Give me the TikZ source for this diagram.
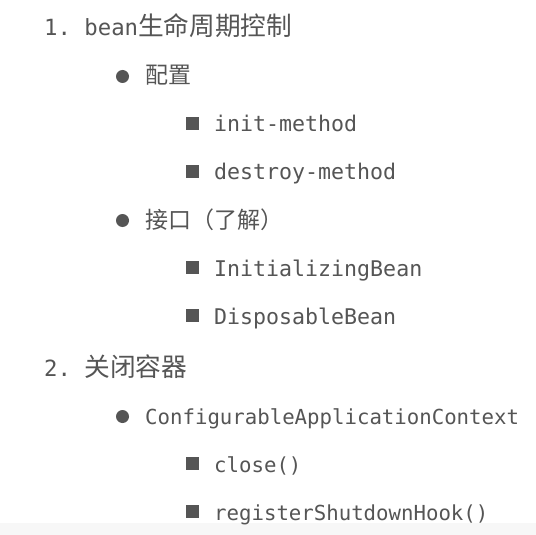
\documentclass[tikz,border=0pt]{standalone}
\usepackage{fontspec}
\setmonofont{DejaVu Sans Mono}
\newfontfamily\cjk{Noto Sans CJK SC}
\usetikzlibrary{positioning}
\definecolor{textgray}{HTML}{555555}
\definecolor{bandgray}{HTML}{F7F7F7}
\newcommand{\zhhead}[1]{{\cjk\fontsize{25.7bp}{30bp}\selectfont #1}}
\newcommand{\zhentry}[1]{{\cjk\fontsize{23bp}{27bp}\selectfont #1}}

\begin{document}
\begin{tikzpicture}[x=1bp, y=-1bp,
    every node/.append style={text=textgray, inner sep=0pt, anchor=base west},
    head/.style={font=\fontsize{22.3bp}{26bp}\selectfont\ttfamily},
    entry/.style={font=\fontsize{20.7bp}{24bp}\selectfont\ttfamily},
    leaf/.style={font=\fontsize{21.6bp}{25bp}\selectfont\ttfamily},
    dot/.style={circle, fill=textgray, minimum size=13bp, anchor=center},
    box/.style={rectangle, fill=textgray, minimum size=13bp, anchor=center}]
    \fill[white] (0,0) rectangle (536,535);
    \fill[bandgray] (0,523) rectangle (536,535);
    \useasboundingbox (0,0) rectangle (536,535);
    % 1. lifecycle
    \node[head] (lifecycle) at (44,36) {1. bean\zhhead{生命周期控制}};
    \node[dot] (dotconfig) at (122.5,76.5) {};
    \node[entry] (config) at (145,84) {\zhentry{配置}};
    \foreach \y/\name/\txt in {132/initmethod/init-method, 180/destroymethod/destroy-method}
      {
        \node[box] (box\name) at (192,\y-8.5) {};
        \node[leaf] (\name) at (214,\y) {\txt};
      }
    \node[dot] (dotiface) at (122.5,220.5) {};
    \node[entry] (iface) at (145,228) {\zhentry{接口（了解）}};
    \foreach \y/\name/\txt in {276/initbean/InitializingBean, 324/disposebean/DisposableBean}
      {
        \node[box] (box\name) at (192,\y-8.5) {};
        \node[leaf] (\name) at (214,\y) {\txt};
      }
    % 2. close container
    \node[head] (closectx) at (44,376) {2. \zhhead{关闭容器}};
    \node[dot] (dotctx) at (122.5,416.5) {};
    \node[entry] (ctx) at (145,424) {ConfigurableApplicationContext};
    \foreach \y/\name/\txt in {472/close/close(), 520/hook/registerShutdownHook()}
      {
        \node[box] (box\name) at (192,\y-8.5) {};
        \node[entry] (\name) at (214,\y) {\txt};
      }
\end{tikzpicture}
\end{document}
